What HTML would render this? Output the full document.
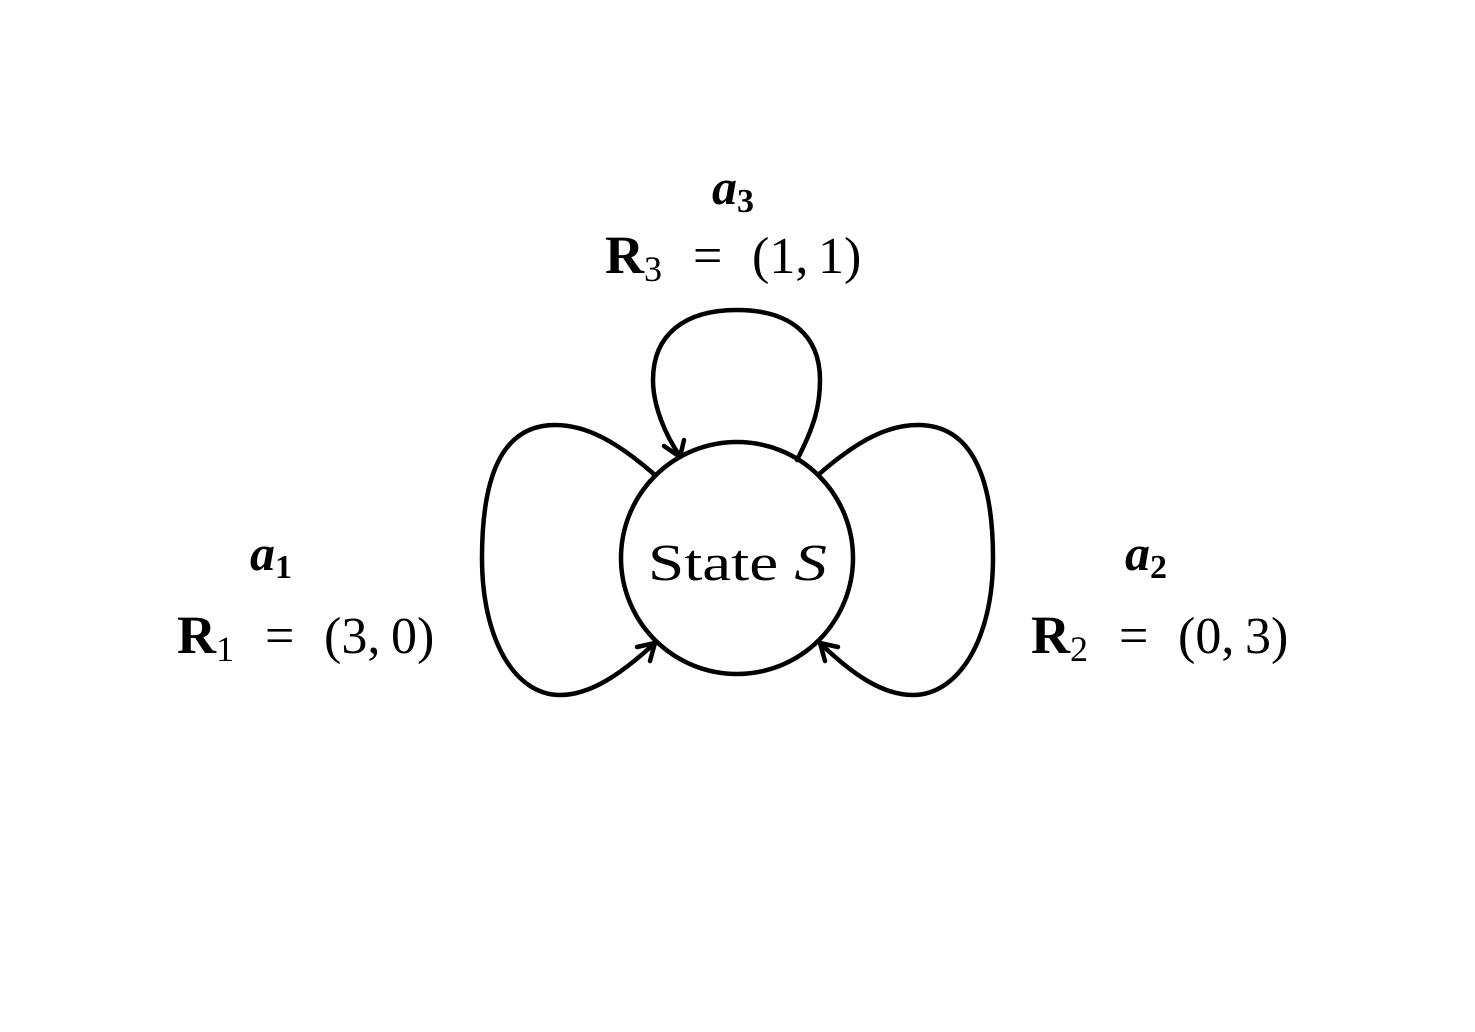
<!DOCTYPE html>
<html><head><meta charset="utf-8"><style>
html,body{margin:0;padding:0;background:#fff;}
svg{display:block}
text{font-family:"Liberation Serif",serif;fill:#000;}
</style></head><body>
<svg width="1475" height="1032" viewBox="0 0 1475 1032" xmlns="http://www.w3.org/2000/svg">
<g fill="none" stroke="#000" stroke-width="4.5" stroke-linecap="round" stroke-linejoin="round">
<circle cx="737" cy="558" r="116"/>
<path d="M797,460 C815,425 820,405 820,380 C820,335 790,310 737,310 C684,310 653,335 653,380 C653,405 665,435 680,456"/>
<path d="M664,446 L680,457 L684,440"/>
<path d="M655,475 C615,440 585,425 555,425 C500,425 482,480 482,558 C482,640 515,695 560,695 C590,695 620,675 655,643"/>
<path d="M637,647 L655,643 L650,661"/>
<path d="M818,475 C858,440 888,425 918,425 C973,425 993,480 993,558 C993,640 958,695 913,695 C883,695 853,675 820,643"/>
<path d="M838,647 L820,643 L825,661"/>
</g>
<text x="648" y="580" font-size="52" textLength="179" lengthAdjust="spacingAndGlyphs">State <tspan font-style="italic">S</tspan></text>
<g font-size="52">
<text x="605" y="273"><tspan font-weight="bold" font-size="54">R</tspan><tspan font-size="36" dy="8">3</tspan><tspan dy="-8" x="680"> =</tspan><tspan x="752">(1,</tspan><tspan x="818">1)</tspan></text>
<text x="177" y="653"><tspan font-weight="bold" font-size="54">R</tspan><tspan font-size="36" dy="8">1</tspan><tspan dy="-8" x="252"> =</tspan><tspan x="324">(3,</tspan><tspan x="391">0)</tspan></text>
<text x="1031" y="653"><tspan font-weight="bold" font-size="54">R</tspan><tspan font-size="36" dy="8">2</tspan><tspan dy="-8" x="1106"> =</tspan><tspan x="1178">(0,</tspan><tspan x="1245">3)</tspan></text>
</g>
<text x="712" y="204" font-size="50" font-style="italic" font-weight="bold">a<tspan font-size="34" dy="8" font-style="normal">3</tspan></text>
<text x="250" y="570" font-size="50" font-style="italic" font-weight="bold">a<tspan font-size="34" dy="8" font-style="normal">1</tspan></text>
<text x="1125" y="570" font-size="50" font-style="italic" font-weight="bold">a<tspan font-size="34" dy="8" font-style="normal">2</tspan></text>
</svg>
</body></html>
